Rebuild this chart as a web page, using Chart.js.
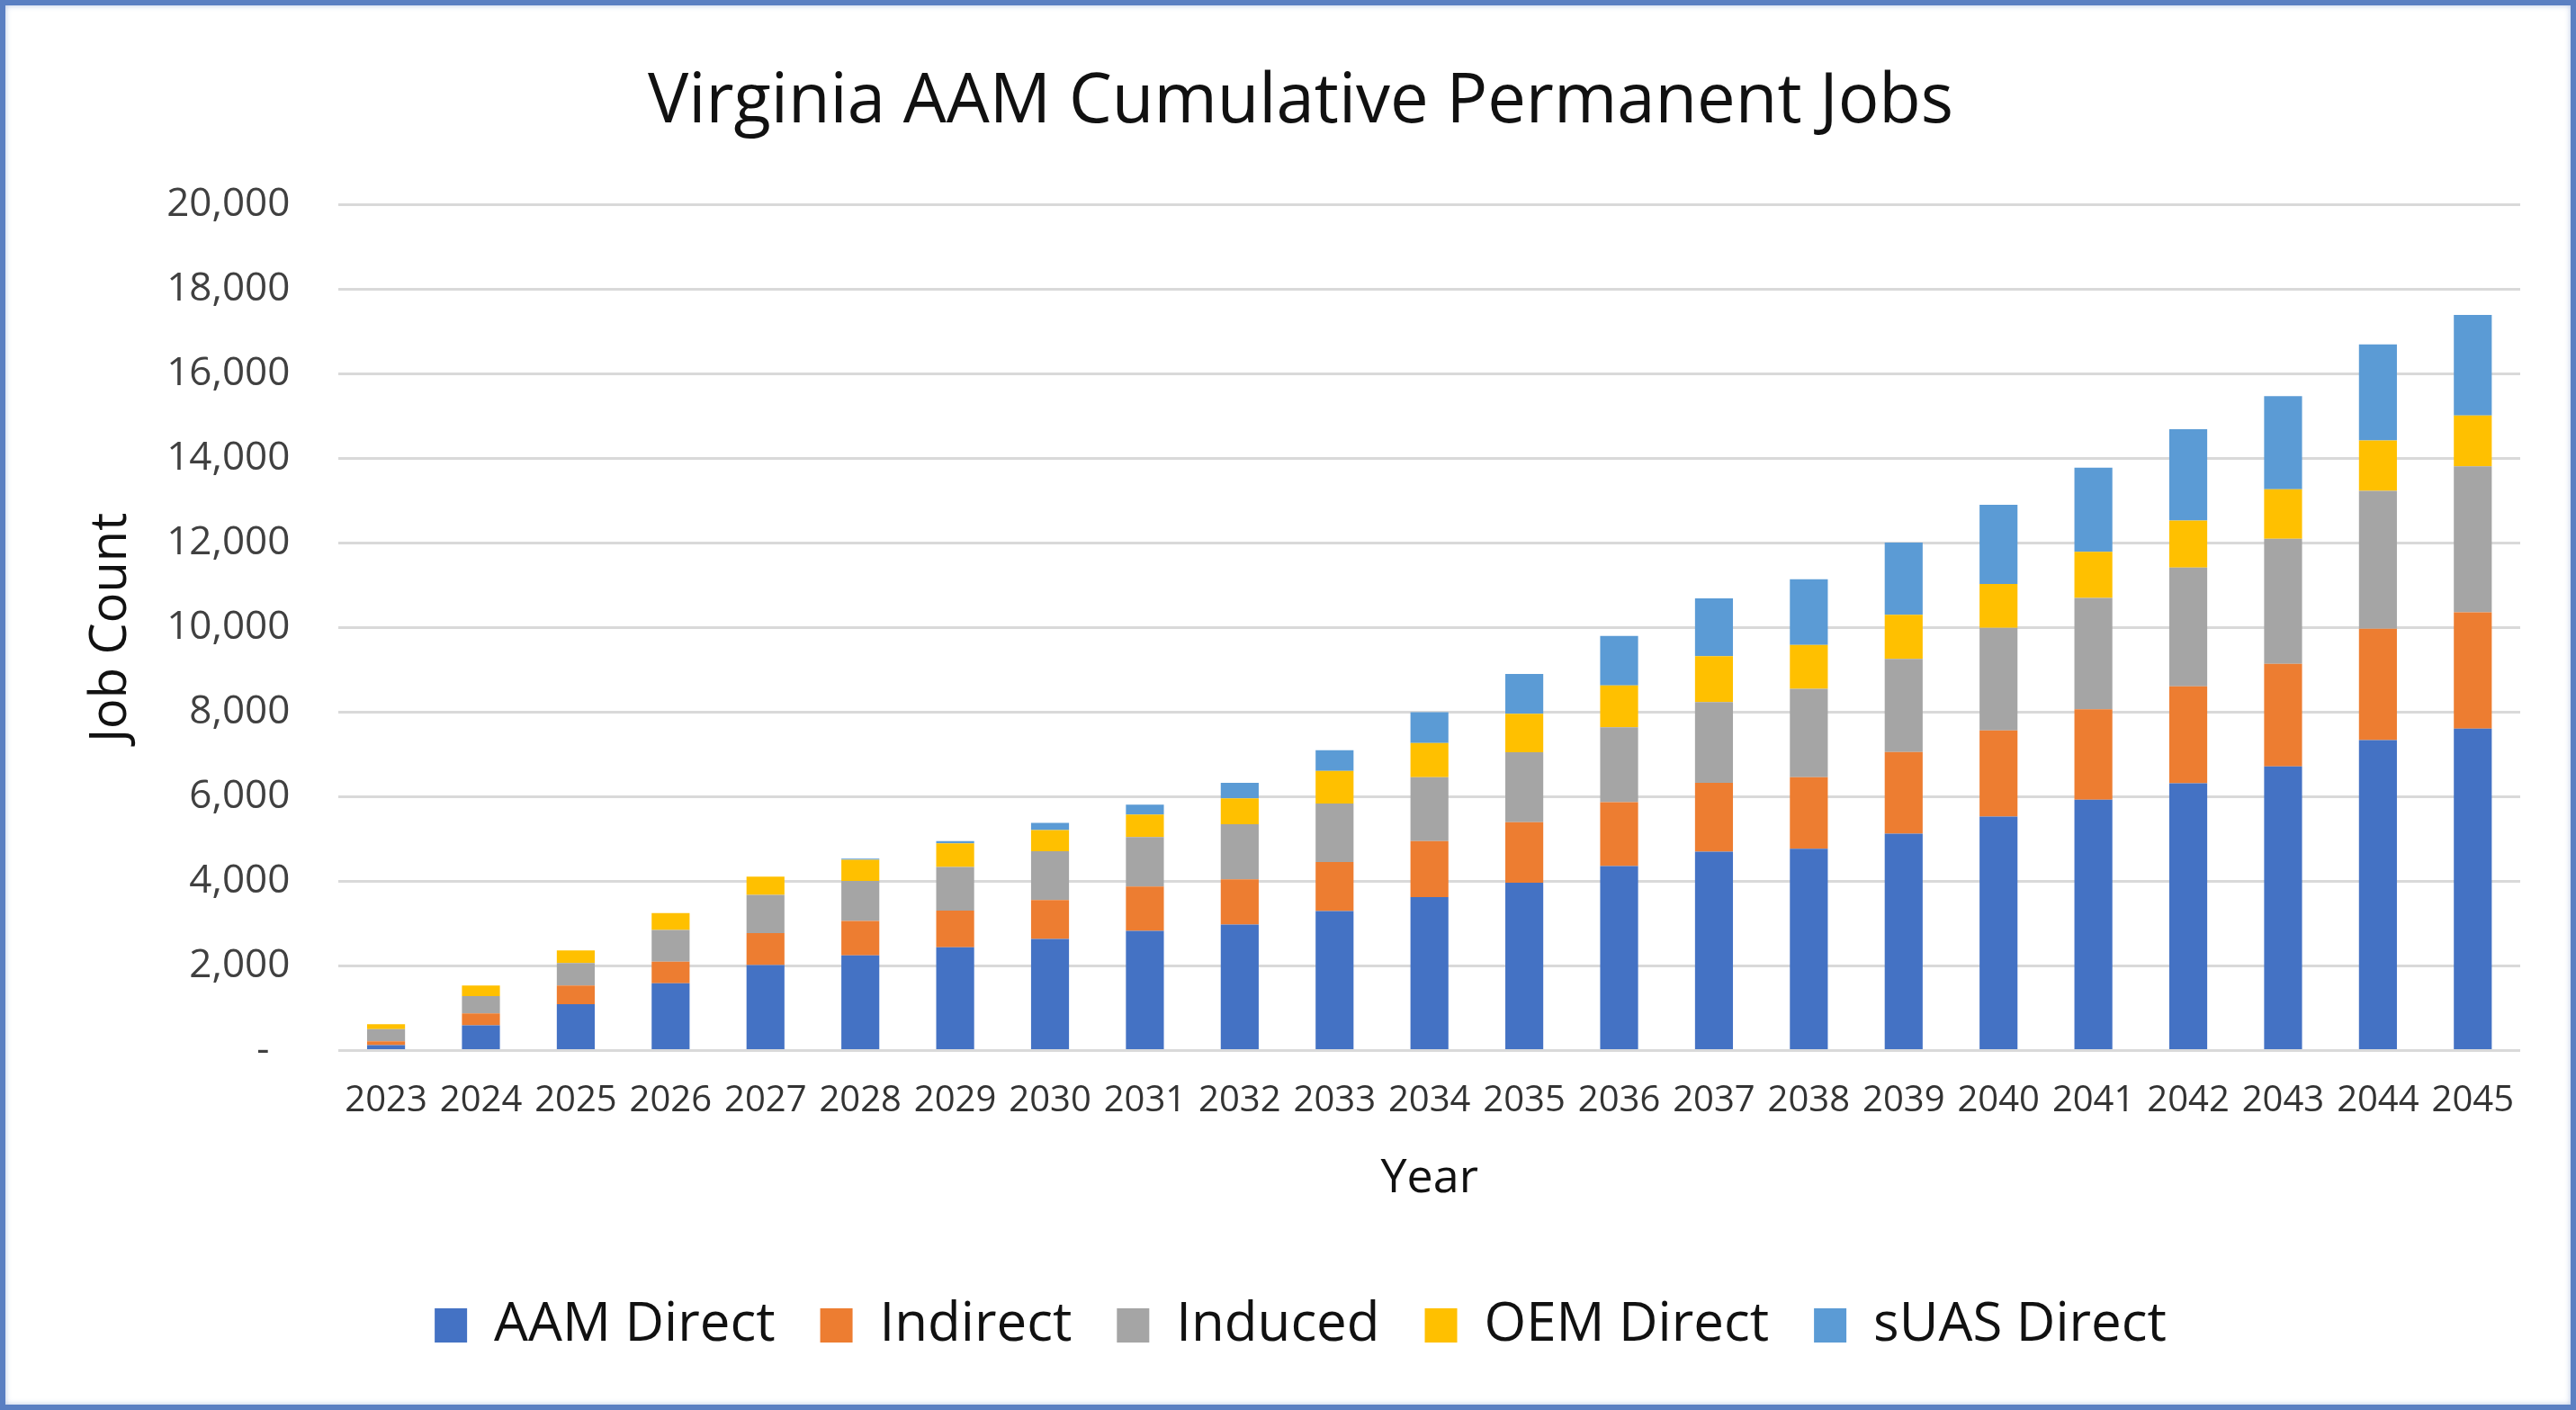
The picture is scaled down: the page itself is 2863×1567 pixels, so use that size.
<!DOCTYPE html>
<html>
<head>
<meta charset="utf-8">
<script src="https://cdn.jsdelivr.net/npm/chart.js@4"></script>
<style>
  html, body { margin: 0; padding: 0; background: #fff; }
  #wrap { position: relative; width: 2863px; height: 1567px; }
  #frame {
    position: absolute; left: 0; top: 0; width: 2863px; height: 1567px;
    box-sizing: border-box; border: 6px solid #5a7fc2;
    box-shadow: inset 0 0 6px rgba(90, 127, 194, 0.45);
    pointer-events: none;
  }
</style>
</head>
<body>
<div id="wrap">
  <canvas id="myChart" width="2863" height="1567"></canvas>
  <div id="frame"></div>
</div>
<script>
var years = ['2023', '2024', '2025', '2026', '2027', '2028', '2029', '2030', '2031', '2032', '2033', '2034',
  '2035', '2036', '2037', '2038', '2039', '2040', '2041', '2042', '2043', '2044', '2045'];

var aamDirect = [130, 600, 1100, 1590, 2020, 2250, 2440, 2640, 2830, 2980, 3300, 3630,
  3970, 4360, 4700, 4770, 5130, 5530, 5930, 6320, 6720, 7340, 7610];
var indirect = [90, 280, 440, 510, 760, 815, 870, 920, 1050, 1070, 1160, 1320,
  1430, 1510, 1630, 1690, 1930, 2040, 2140, 2290, 2420, 2630, 2750];
var induced = [285, 410, 530, 750, 900, 945, 1030, 1155, 1170, 1300, 1380, 1510,
  1650, 1770, 1910, 2090, 2200, 2420, 2630, 2810, 2960, 3260, 3450];
var oemDirect = [120, 250, 300, 400, 430, 500, 560, 500, 530, 610, 770, 810,
  910, 990, 1080, 1040, 1040, 1040, 1090, 1110, 1170, 1190, 1200];
var suasDirect = [0, 0, 0, 0, 0, 30, 50, 170, 235, 370, 490, 730,
  940, 1170, 1370, 1550, 1710, 1870, 1990, 2160, 2200, 2270, 2380];

function renderChart() {
  var ctx = document.getElementById('myChart').getContext('2d');
  var bar = { barPercentage: 0.4, categoryPercentage: 1, borderWidth: 0 };

  new Chart(ctx, {
    type: 'bar',
    data: {
      labels: years,
      datasets: [
        Object.assign({ label: 'AAM Direct', data: aamDirect, backgroundColor: '#4472c4' }, bar),
        Object.assign({ label: 'Indirect', data: indirect, backgroundColor: '#ed7d31' }, bar),
        Object.assign({ label: 'Induced', data: induced, backgroundColor: '#a5a5a5' }, bar),
        Object.assign({ label: 'OEM Direct', data: oemDirect, backgroundColor: '#ffc000' }, bar),
        Object.assign({ label: 'sUAS Direct', data: suasDirect, backgroundColor: '#5b9bd5' }, bar)
      ]
    },
    options: {
      responsive: false,
      animation: false,
      layout: { padding: { top: 20, left: 90, right: 62, bottom: 54 } },
      plugins: {
        tooltip: { enabled: false },
        title: {
          display: true,
          text: 'Virginia AAM Cumulative Permanent Jobs',
          color: '#111',
          font: { family: 'Open Sans', size: 76, weight: 'normal' },
          padding: { top: 49, bottom: 67 }
        },
        legend: {
          position: 'bottom',
          labels: {
            boxWidth: 36,
            boxHeight: 38,
            padding: 50,
            color: '#111',
            font: { family: 'Open Sans', size: 60 }
          }
        }
      },
      scales: {
        x: {
          stacked: true,
          grid: { display: false },
          border: { display: false },
          ticks: {
            color: '#333',
            padding: 24,
            maxRotation: 0,
            autoSkip: false,
            font: { family: 'Open Sans', size: 40 }
          },
          title: {
            display: true,
            text: 'Year',
            color: '#111',
            font: { family: 'Open Sans', size: 52 },
            padding: { top: 7, bottom: 52 }
          }
        },
        y: {
          stacked: true,
          min: 0,
          max: 20000,
          grid: { color: '#d9d9d9', lineWidth: 3, drawTicks: false },
          border: { display: false },
          ticks: {
            stepSize: 2000,
            color: '#404040',
            padding: 54,
            font: { family: 'Open Sans', size: 44 },
            callback: function(value) {
              return value === 0 ? '-  ' : value.toLocaleString('en-US');
            }
          },
          title: {
            display: true,
            text: 'Job Count',
            color: '#111',
            font: { family: 'Open Sans', size: 56 },
            padding: { top: 0, bottom: -26 }
          }
        }
      }
    }
  });
}
document.addEventListener('DOMContentLoaded', function() {
  renderChart();
});
</script>
</body>
</html>
